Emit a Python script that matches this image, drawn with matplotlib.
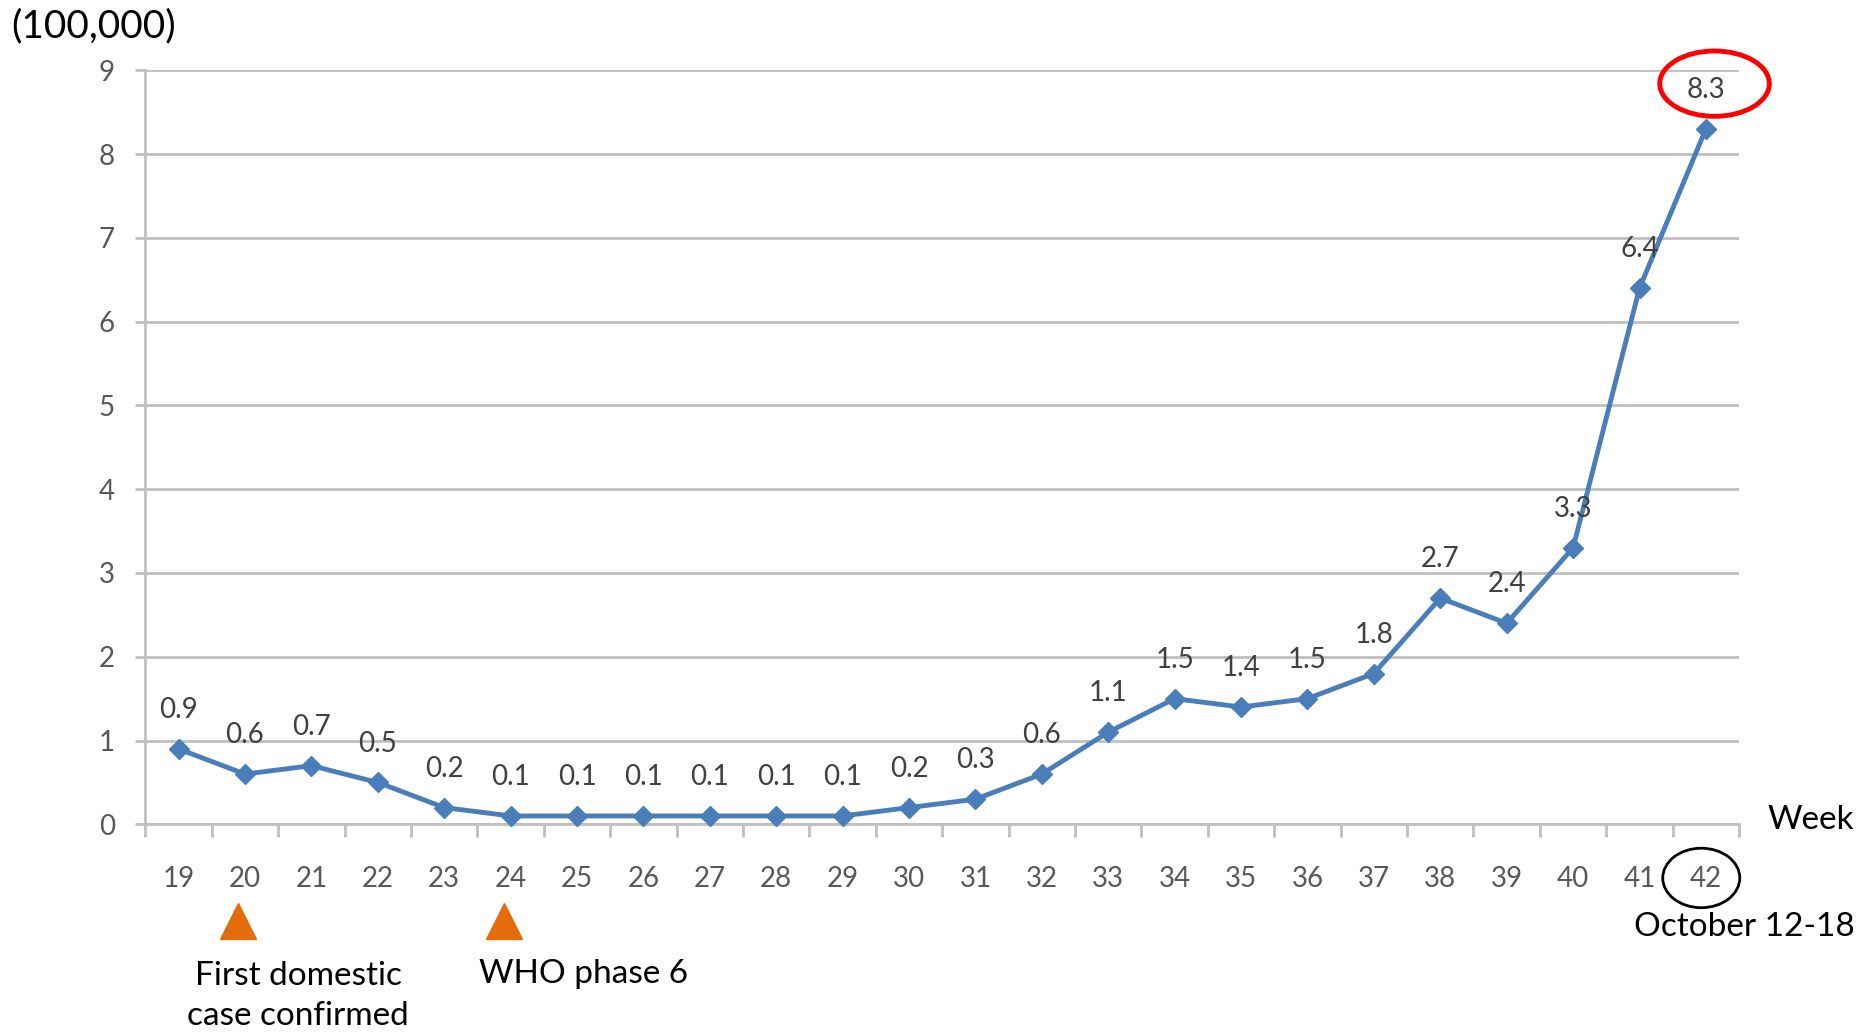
import matplotlib
matplotlib.use('Agg')
import matplotlib.pyplot as plt
from matplotlib.patches import Ellipse
import matplotlib.transforms as mtransforms

plt.rcParams['font.family'] = ['Lato', 'DejaVu Sans']

# weekly counts (in 100,000)
weeks = [19, 20, 21, 22, 23, 24, 25, 26, 27, 28, 29, 30,
         31, 32, 33, 34, 35, 36, 37, 38, 39, 40, 41, 42]
values = [0.9, 0.6, 0.7, 0.5, 0.2, 0.1, 0.1, 0.1, 0.1, 0.1, 0.1, 0.2,
          0.3, 0.6, 1.1, 1.5, 1.4, 1.5, 1.8, 2.7, 2.4, 3.3, 6.4, 8.3]
event_weeks = [20, 24]
event_labels = ['First domestic\ncase confirmed', 'WHO phase 6']

line_color = '#4A7EBB'
grid_color = '#C0C0C0'

fig = plt.figure(figsize=(18.64, 10.33), dpi=100)
ax = fig.add_axes([0.078, 0.202, 0.855, 0.730])

ax.plot(weeks, values, color=line_color, lw=3.5, marker='D', ms=10,
        zorder=3, clip_on=False)

for w, v in zip(weeks, values):
    ax.annotate(f'{v:.1f}', (w, v), xytext=(0, 28), textcoords='offset points',
                ha='center', va='center', fontsize=20, color='#404040')

ax.set_xlim(18.5, 42.5)
ax.set_ylim(0, 9)
ax.set_yticks(range(0, 10))
ax.set_xticks(weeks)
ax.set_xticklabels([str(w) for w in weeks])
ax.set_xticks([w - 0.5 for w in weeks] + [42.5], minor=True)

ax.grid(axis='y', color=grid_color, lw=2)
ax.set_axisbelow(True)
for s in ['top', 'right']:
    ax.spines[s].set_visible(False)
for s in ['left', 'bottom']:
    ax.spines[s].set_color(grid_color)
    ax.spines[s].set_linewidth(2)

ax.tick_params(axis='y', length=7, width=2, color=grid_color, pad=15,
               labelsize=20, labelcolor='#595959')
ax.tick_params(axis='x', which='major', length=0, pad=30,
               labelsize=20, labelcolor='#595959')
ax.tick_params(axis='x', which='minor', length=9, width=2, color=grid_color)

# event markers below the axis
trans = mtransforms.blended_transform_factory(ax.transData, fig.transFigure)
for w in event_weeks:
    ax.plot(w - 0.1, 0.108, marker='^', ms=26, color='#E46C0A',
            transform=trans, clip_on=False)
ax.text(20.8, 0.036, event_labels[0], transform=trans, ha='center', va='center',
        fontsize=24, color='black', linespacing=1.4)
ax.text(25.1, 0.057, event_labels[1], transform=trans, ha='center', va='center',
        fontsize=24, color='black')

fig.text(0.006, 0.975, '(100,000)', ha='left', va='center', fontsize=28)
fig.text(0.9715, 0.206, 'Week', ha='center', va='center', fontsize=24)
fig.text(0.936, 0.103, 'October 12-18', ha='center', va='center', fontsize=24)

# highlight circles
ax.add_patch(Ellipse((42.13, 8.84), 1.65, 0.78, fill=False, ec='#FF0000',
                     lw=3.5, clip_on=False))
ax.add_patch(Ellipse((41.93, -0.64), 1.16, 0.71, fill=False, ec='black',
                     lw=2, clip_on=False))

fig.savefig('out.png', dpi=100)
